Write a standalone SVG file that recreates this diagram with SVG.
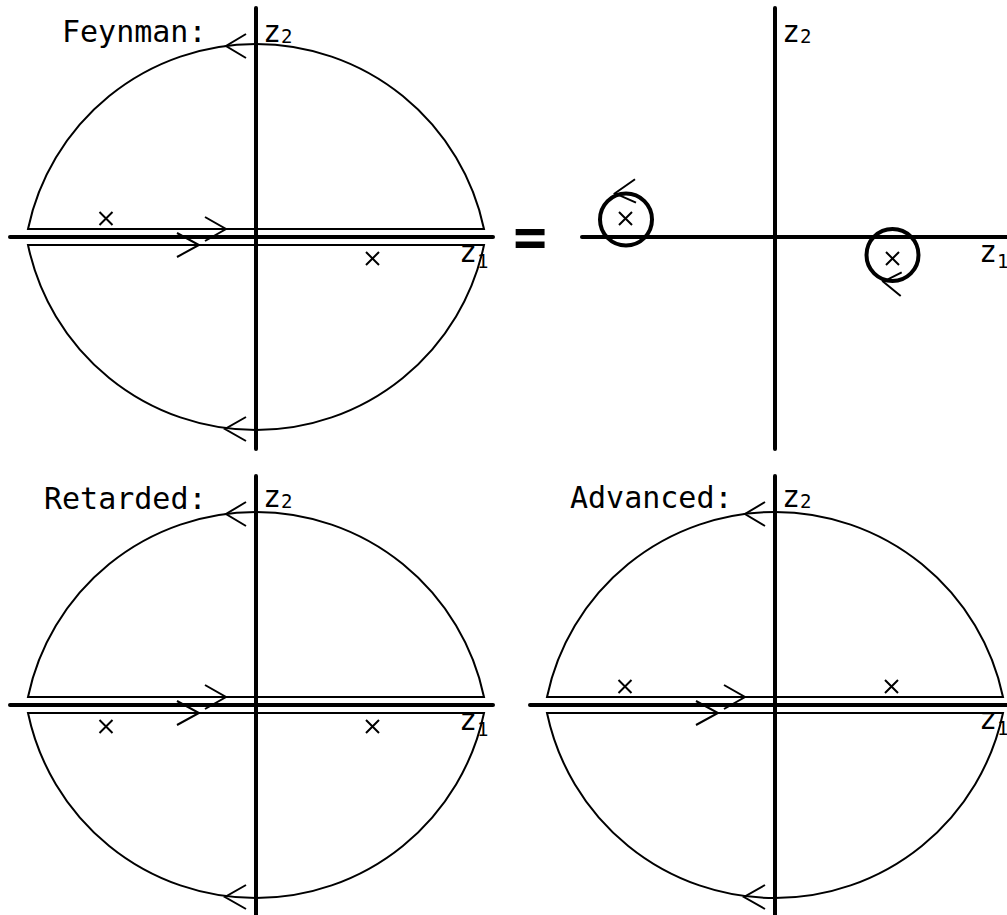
<svg xmlns="http://www.w3.org/2000/svg" xmlns:xlink="http://www.w3.org/1999/xlink" width="1007" height="915" viewBox="0 0 1007 915">
<style>
.axis{stroke:#000;stroke-width:4;stroke-linecap:round;fill:none}
.ct{stroke:#000;stroke-width:2;fill:none;stroke-linejoin:miter}
.ch{stroke:#000;stroke-width:2;fill:none}
.cx{stroke:#000;stroke-width:2;fill:none}
.ring{stroke:#000;stroke-width:4;fill:none}
.lbl{font-family:"DejaVu Sans Mono",monospace;font-size:30px;fill:#000}
.sub{font-size:19px}
</style>
<defs>
<g id="contour">
<path class="ct" d="M28 229 A233 233 0 0 1 484 229 Z"/>
<path class="ct" d="M28 245 A233 233 0 0 0 484 245 Z"/>
<polyline class="ch" points="246,34 226,46 246,58"/>
<polyline class="ch" points="205,217 226,229 205,241"/>
<polyline class="ch" points="177,233 199,245 177,257"/>
<polyline class="ch" points="246,417 225,429 246,441"/>
</g>
<path id="cross" class="cx" d="M-6.5 -6.5 L6.5 6.5 M-6.5 6.5 L6.5 -6.5"/>
</defs>

<g id="feynman">
<use xlink:href="#contour"/>
<line class="axis" x1="256" y1="8" x2="256" y2="449"/>
<line class="axis" x1="10" y1="237" x2="493" y2="237"/>
<use xlink:href="#cross" x="106" y="218.5"/>
<use xlink:href="#cross" x="372.5" y="258.5"/>
<text class="lbl" x="62" y="42">Feynman:</text>
<text class="lbl" x="263" y="42">z<tspan class="sub" dy="1">2</tspan></text>
<text class="lbl" x="459" y="262">z<tspan class="sub" dy="6">1</tspan></text>
</g>

<g id="equals">
<text class="lbl" x="530" y="256" text-anchor="middle" style="font-size:56px;font-weight:bold">=</text>
</g>

<g id="poles">
<line class="axis" x1="775" y1="8" x2="775" y2="449"/>
<line class="axis" x1="582" y1="237" x2="1012" y2="237"/>
<circle class="ring" cx="626" cy="219.5" r="26"/>
<circle class="ring" cx="892.5" cy="255" r="26"/>
<polyline class="ch" points="635,179.3 615,193.3 636,202.7"/>
<polyline class="ch" points="901.7,272.3 883.3,281.7 900.7,296"/>
<use xlink:href="#cross" x="625.5" y="218.5"/>
<use xlink:href="#cross" x="892.5" y="258.5"/>
<text class="lbl" x="782" y="42">z<tspan class="sub" dy="1">2</tspan></text>
<text class="lbl" x="979" y="262">z<tspan class="sub" dy="6">1</tspan></text>
</g>

<g id="retarded" transform="translate(0,468)">
<use xlink:href="#contour"/>
<line class="axis" x1="256" y1="8" x2="256" y2="449"/>
<line class="axis" x1="10" y1="237" x2="493" y2="237"/>
<use xlink:href="#cross" x="106" y="258.5"/>
<use xlink:href="#cross" x="372.5" y="258.5"/>
<text class="lbl" x="44" y="41">Retarded:</text>
<text class="lbl" x="263" y="39">z<tspan class="sub" dy="1">2</tspan></text>
<text class="lbl" x="459" y="262">z<tspan class="sub" dy="6">1</tspan></text>
</g>

<g id="advanced" transform="translate(519,468)">
<use xlink:href="#contour"/>
<line class="axis" x1="256" y1="8" x2="256" y2="449"/>
<line class="axis" x1="11" y1="237" x2="500" y2="237"/>
<use xlink:href="#cross" x="106" y="218.5"/>
<use xlink:href="#cross" x="372.5" y="218.5"/>
<text class="lbl" x="51" y="40">Advanced:</text>
<text class="lbl" x="263" y="39">z<tspan class="sub" dy="1">2</tspan></text>
<text class="lbl" x="460" y="261">z<tspan class="sub" dy="6">1</tspan></text>
</g>
</svg>
